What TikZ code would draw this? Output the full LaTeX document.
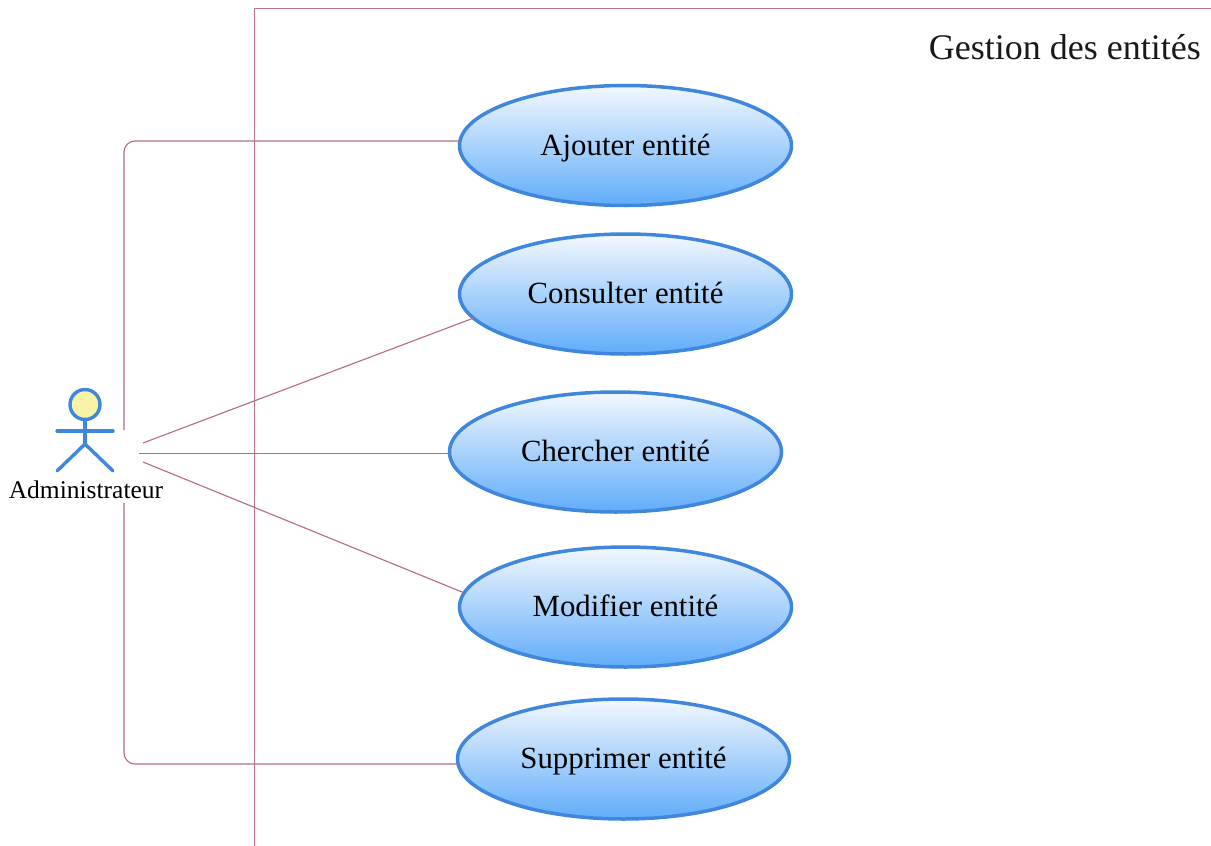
\documentclass[tikz,border=0pt]{standalone}
\usepackage{fontspec}
\setmainfont{Liberation Serif}
\usetikzlibrary{shapes.geometric}
\definecolor{linkc}{HTML}{B56A84}
\definecolor{framec}{HTML}{C4708E}
\definecolor{bluec}{HTML}{3F87DC}
\definecolor{headc}{HTML}{F8F3A8}
\tikzset{
  usecase/.style={ellipse,draw=bluec,line width=3.5pt,
    top color={rgb,255:red,243;green,248;blue,253},bottom color={rgb,255:red,96;green,172;blue,250},
    minimum width=332pt,minimum height=120pt,inner sep=0pt,outer sep=0pt,
    text height=19pt,text depth=0pt,
    font=\fontsize{30.8}{34}\selectfont,text=black},
  link/.style={draw=linkc,line width=1.1pt},
  frame/.style={draw=framec,line width=.9pt},
  actorline/.style={draw=bluec,line width=3.4pt,line cap=round},
  actorlabel/.style={font=\fontsize{25.5}{28}\selectfont,inner sep=0pt,text=black},
  titlelabel/.style={font=\fontsize{36}{40}\selectfont,inner sep=0pt,text=black!90}
}
\begin{document}
\begin{tikzpicture}[x=1pt,y=-1pt]
\useasboundingbox (0,0) rectangle (1211,846);
% system frame
\coordinate (f1) at (254,846);
\coordinate (f2) at (254,8);
\coordinate (f3) at (1211,8);
\draw[frame] (f1) -- (f2) -- (f3);
\node[titlelabel,anchor=east] (title) at (1201,47) {Gestion des entités};
% use cases
\node[usecase] (e1) at (625.5,145.5) {Ajouter entité};
\node[usecase] (e2) at (625.5,294) {Consulter entité};
\node[usecase] (e3) at (615.5,452) {Chercher entité};
\node[usecase] (e4) at (625.5,607) {Modifier entité};
\node[usecase] (e5) at (623.5,759) {Supprimer entité};
% actor
\node[circle,draw=bluec,line width=3.4pt,fill=headc,minimum size=30pt,inner sep=0pt,outer sep=0pt] (head) at (85,404.5) {};
\coordinate (hip) at (85,444);
\coordinate (armL) at (57,431);
\coordinate (armR) at (113,431);
\coordinate (legL) at (57,471);
\coordinate (legR) at (113,471);
\draw[actorline] (head.south) -- (hip);
\draw[actorline] (armL) -- (armR);
\draw[actorline] (legL) -- (hip) -- (legR);
\node[actorlabel] (actor) at (86,490) {Administrateur};
% connectors
\coordinate (a1) at (124,430);
\coordinate (a2) at (143,443);
\coordinate (a3) at (139,453.6);
\coordinate (a4) at (143,462);
\coordinate (a5) at (124,503);
\coordinate (p1) at (459.5,141);
\coordinate (p5) at (457.5,764);
\draw[link,rounded corners=11pt] (a1) |- (p1);
\draw[link] (a2) -- (e2.189);
\draw[link] (a3) -- (a3 -| e3.west);
\draw[link] (a4) -- (e4.175.5);
\draw[link,rounded corners=11pt] (a5) |- (p5);
\end{tikzpicture}
\end{document}
